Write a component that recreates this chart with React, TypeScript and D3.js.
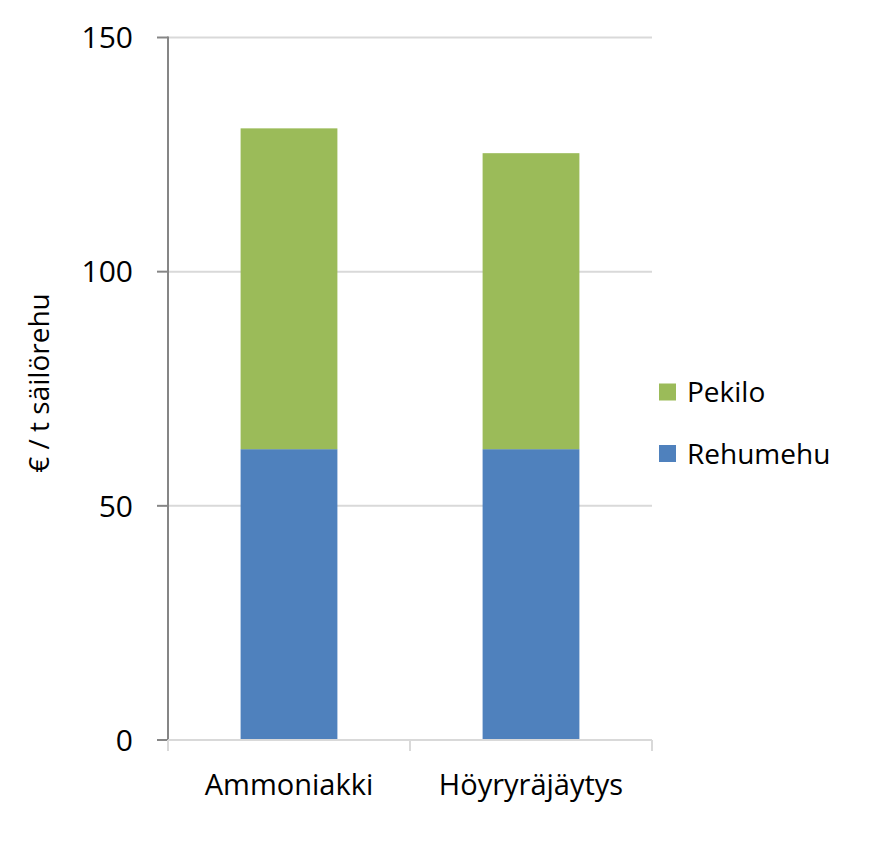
import React from "react";
import * as d3 from "d3";

const categories = ["Ammoniakki", "Höyryräjäytys"];
const seriesNames = ["Rehumehu", "Pekilo"];
const rehumehu = [62.1, 62.1];
const pekilo = [68.5, 63.2];
const yTicks = [0, 50, 100, 150];
const colors = ["#4F81BD", "#9BBB59"];
const yTitle = "€ / t säilörehu";

const W = 873;
const H = 845;
const FONT = "'Open Sans', 'DejaVu Sans', sans-serif";

export default function App() {
  const left = 168;
  const right = 652;
  const top = 37.5;
  const bottom = 740;

  const x = d3.scaleBand<string>().domain(categories).range([left, right]).padding(0);
  const y = d3.scaleLinear().domain([0, 150]).range([bottom, top]);
  const barW = x.bandwidth() * 0.4;

  const rows = categories.map((c, i) => ({ cat: c, Rehumehu: rehumehu[i], Pekilo: pekilo[i] }));
  const stacked = d3.stack<any>().keys(seriesNames)(rows);

  const axisColor = "#868686";
  const gridColor = "#D9D9D9";

  const legendItems = [
    { name: "Pekilo", color: colors[1], y: 392 },
    { name: "Rehumehu", color: colors[0], y: 453.5 },
  ];

  return (
    <svg
      width={W}
      height={H}
      style={{ position: "absolute", left: 0, top: 0, background: "#fff" }}
      fontFamily={FONT}
    >
      <rect x={0} y={0} width={W} height={H} fill="#fff" />
      {/* gridlines */}
      {yTicks.filter((t) => t > 0).map((t) => (
        <line key={"g" + t} x1={left} x2={right} y1={y(t)} y2={y(t)} stroke={gridColor} strokeWidth={2} />
      ))}
      {/* bars */}
      {stacked.map((s, si) =>
        s.map((d, i) => {
          const cx = (x(categories[i]) as number) + x.bandwidth() / 2;
          return (
            <rect
              key={seriesNames[si] + i}
              x={cx - barW / 2}
              y={y(d[1])}
              width={barW}
              height={y(d[0]) - y(d[1])}
              fill={colors[si]}
            />
          );
        })
      )}
      {/* y axis */}
      <line x1={left} x2={left} y1={top - 1} y2={bottom} stroke={axisColor} strokeWidth={2} />
      {yTicks.map((t) => (
        <g key={"t" + t}>
          <line x1={left - 11} x2={left} y1={y(t)} y2={y(t)} stroke={axisColor} strokeWidth={2} />
          <text x={133} y={y(t)} dy="0.36em" textAnchor="end" fontSize={30} fill="#000">
            {t}
          </text>
        </g>
      ))}
      {/* x axis */}
      <line x1={left} x2={right} y1={bottom} y2={bottom} stroke={gridColor} strokeWidth={2} />
      {[left, ...categories.map((c) => (x(c) as number) + x.bandwidth())].map((px, i) => (
        <line key={"xt" + i} x1={px} x2={px} y1={bottom} y2={bottom + 11} stroke={gridColor} strokeWidth={2} />
      ))}
      {categories.map((c) => (
        <text
          key={c}
          x={(x(c) as number) + x.bandwidth() / 2}
          y={795}
          textAnchor="middle"
          fontSize={29}
          fill="#000"
        >
          {c}
        </text>
      ))}
      {/* y title */}
      <text
        transform={`translate(49, 383) rotate(-90)`}
        textAnchor="middle"
        fontSize={28}
        fill="#000"
      >
        {yTitle}
      </text>
      {/* legend */}
      {legendItems.map((l) => (
        <g key={l.name}>
          <rect x={659} y={l.y - 8.5} width={17} height={17} fill={l.color} />
          <text x={687} y={l.y} dy="0.36em" fontSize={28} fill="#000">
            {l.name}
          </text>
        </g>
      ))}
    </svg>
  );
}
